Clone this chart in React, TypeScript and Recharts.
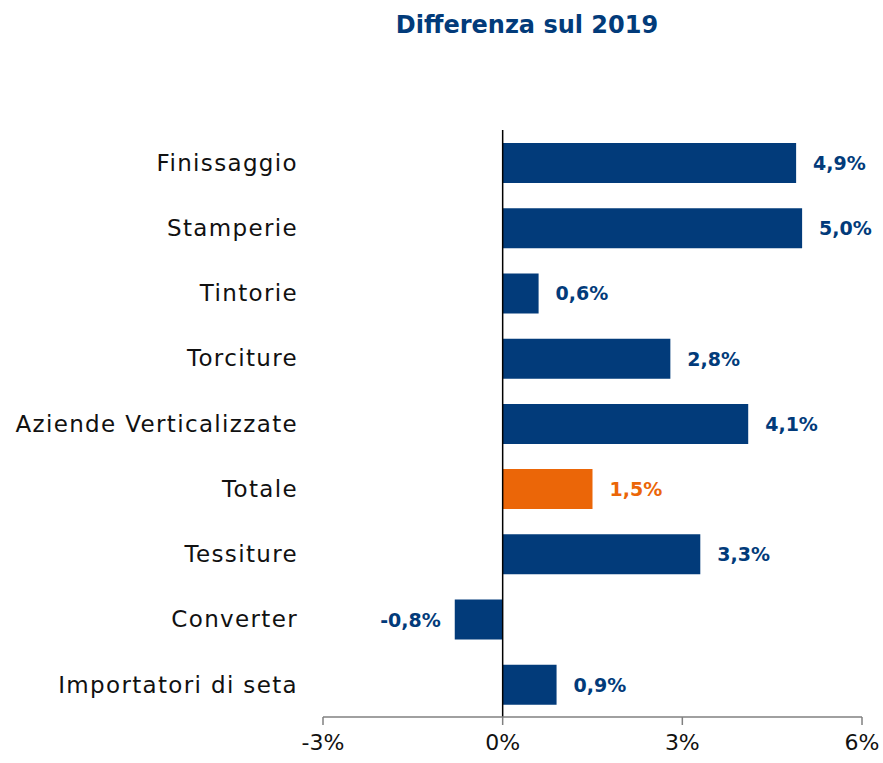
import { BarChart, Bar, XAxis, YAxis, Cell, LabelList, ReferenceLine } from "recharts";

const categories = [
  "Finissaggio",
  "Stamperie",
  "Tintorie",
  "Torciture",
  "Aziende Verticalizzate",
  "Totale",
  "Tessiture",
  "Converter",
  "Importatori di seta",
];
const values = [4.9, 5.0, 0.6, 2.8, 4.1, 1.5, 3.3, -0.8, 0.9];
const xTicks = [-3, 0, 3, 6];

const NAVY = "#023B7A";
const ORANGE = "#EB6608";
const FONT = "'DejaVu Sans', sans-serif";

const data = categories.map((name, i) => ({ name, value: values[i] }));

const fmt = (v: number) => v.toFixed(1).replace(".", ",") + "%";

// etichetta del valore a destra (o a sinistra se negativo) della barra
const ValueLabel = (props: any) => {
  const { x, y, width, height, value, index } = props;
  const neg = value < 0;
  const left = Math.min(x, x + width);
  const right = Math.max(x, x + width);
  const color = categories[index] === "Totale" ? ORANGE : NAVY;
  return (
    <text
      x={neg ? left - 14 : right + 17}
      y={y + height / 2}
      textAnchor={neg ? "end" : "start"}
      dominantBaseline="central"
      fill={color}
      fontSize={19}
      fontWeight="bold"
      fontFamily={FONT}
    >
      {fmt(value)}
    </text>
  );
};

export default function App() {
  return (
    <div style={{ position: "absolute", left: 0, top: 0, width: 883, height: 763, background: "#fff" }}>
      <div
        style={{
          position: "absolute",
          left: 327,
          width: 400,
          top: 11,
          textAlign: "center",
          color: NAVY,
          fontFamily: FONT,
          fontWeight: "bold",
          fontSize: 24,
        }}
      >
        Differenza sul 2019
      </div>
      <BarChart
        width={883}
        height={763}
        data={data}
        layout="vertical"
        margin={{ top: 130, right: 21, bottom: 0, left: 0 }}
      >
        <XAxis
          type="number"
          domain={[-3, 6]}
          ticks={xTicks}
          tickFormatter={(v) => `${v}%`}
          axisLine={{ stroke: "#808080", strokeWidth: 1.5 }}
          tickLine={{ stroke: "#808080", strokeWidth: 1.5 }}
          tickSize={8}
          tickMargin={9}
          height={46}
          tick={{ fill: "#111", fontSize: 22, fontFamily: FONT }}
        />
        <YAxis
          type="category"
          dataKey="name"
          width={323}
          axisLine={false}
          tickLine={false}
          tickSize={0}
          tickMargin={25}
          tick={{ fill: "#111", fontSize: 23, fontFamily: FONT, letterSpacing: 1.35 }}
        />
        <ReferenceLine x={0} stroke="#000" strokeWidth={1.5} />
        <Bar dataKey="value" barSize={40} isAnimationActive={false}>
          {data.map((d) => (
            <Cell key={d.name} fill={d.name === "Totale" ? ORANGE : NAVY} />
          ))}
          <LabelList dataKey="value" content={<ValueLabel />} />
        </Bar>
      </BarChart>
    </div>
  );
}
